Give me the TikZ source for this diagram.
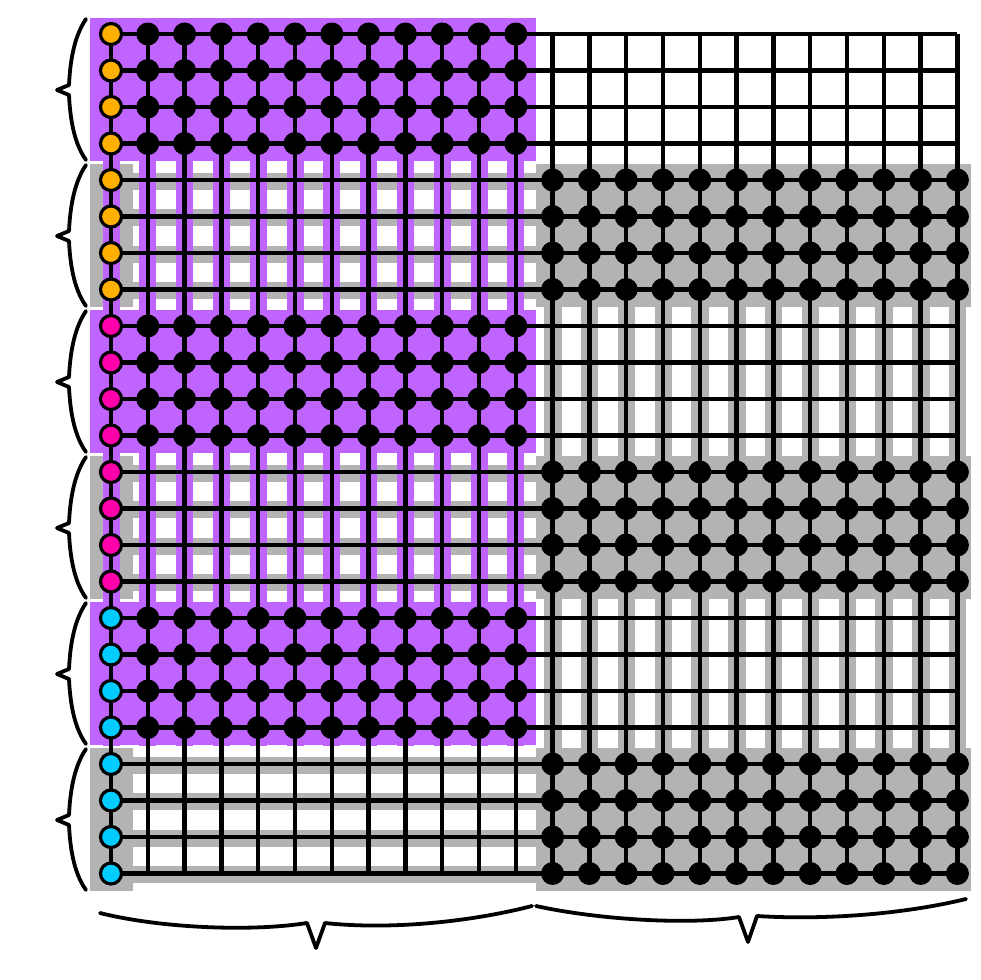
\documentclass[tikz,border=0pt]{standalone}
\definecolor{purp}{RGB}{191,100,255}
\definecolor{gry}{RGB}{179,179,179}
\definecolor{orng}{RGB}{255,176,0}
\definecolor{mgnt}{RGB}{255,0,170}
\definecolor{cyn}{RGB}{0,204,255}
\begin{document}
\begin{tikzpicture}[x=1pt,y=-1pt,
  bdot/.style={circle,fill=black,inner sep=0pt,minimum size=23pt},
  cdot/.style={circle,draw=black,line width=3.2pt,inner sep=0pt,minimum size=21pt},
  gridline/.style={line width=4.4pt,black},
  bracepath/.style={line width=3.8pt,black,line cap=round,line join=round}]
\useasboundingbox (0,0) rectangle (980,980);
% grid coordinates
\foreach \r in {0,...,23}{
  \foreach \c in {0,...,23}{
    \coordinate (g-\r-\c) at ({111+36.8*\c},{34+36.5*\r});
  }
}
% gray underlay on left half (rows of gray blocks)
\foreach \k in {1,3,5}{
  \fill[gry] (90,{18+146*\k}) rectangle (133,{161+146*\k});
  \foreach \i in {0,...,3}{
    \fill[gry] (90,{34+36.5*(4*\k+\i)-7.5}) rectangle (536,{34+36.5*(4*\k+\i)+9.5});
  }
}
% purple blocks and purple column strokes
\foreach \k in {0,2,4}{
  \fill[purp] (90,{18+146*\k}) rectangle (536,{161+146*\k});
}
\foreach \c in {0,...,11}{
  \fill[purp] ({111+36.8*\c-8.5},18) rectangle ({111+36.8*\c+8.5},746);
}
% gray blocks and gray column strokes on right half
\foreach \k in {1,3,5}{
  \fill[gry] (536,{18+146*\k}) rectangle (971,{161+146*\k});
}
\foreach \c in {12,...,23}{
  \fill[gry] ({111+36.8*\c-8.5},164) rectangle ({111+36.8*\c+9},891);
}
% grid lines
\foreach \i in {0,...,23}{
  \draw[gridline] (g-\i-0) -- (g-\i-23);
  \draw[gridline] (g-0-\i) -- (g-23-\i);
}
% black dots
\foreach \r in {0,...,23}{
  \pgfmathtruncatemacro{\b}{mod(int(\r/4),2)}
  \ifnum\b=0
    \foreach \c in {1,...,11}{\node[bdot] (d-\r-\c) at (g-\r-\c) {};}
  \else
    \foreach \c in {12,...,23}{\node[bdot] (d-\r-\c) at (g-\r-\c) {};}
  \fi
}
% coloured dots in first column
\foreach \r in {0,...,23}{
  \pgfmathtruncatemacro{\q}{int(\r/8)}
  \ifcase\q \def\cc{orng}\or \def\cc{mgnt}\else \def\cc{cyn}\fi
  \node[cdot,fill=\cc] (p-\r) at (g-\r-0) {};
}
% left braces
\foreach \k in {0,...,5}{
  \pgfmathsetmacro{\yc}{90+146*\k}
  \draw[bracepath] (86,{\yc-71}) .. controls (73,{\yc-52}) and (70,{\yc-25}) .. (69,{\yc-5})
     -- (57,\yc) -- (69,{\yc+5}) .. controls (70,{\yc+25}) and (73,{\yc+52}) .. (86,{\yc+70});
}
% bottom braces
\draw[bracepath] (100,913) .. controls (160,928) and (250,932) .. (307,923)
   -- (316,948) -- (325,923) .. controls (390,930) and (470,922) .. (532,906);
\draw[bracepath] (536,906) .. controls (600,920) and (690,925) .. (739,917)
   -- (748,942) -- (757,916) .. controls (820,920) and (900,915) .. (966,899);
\end{tikzpicture}
\end{document}
